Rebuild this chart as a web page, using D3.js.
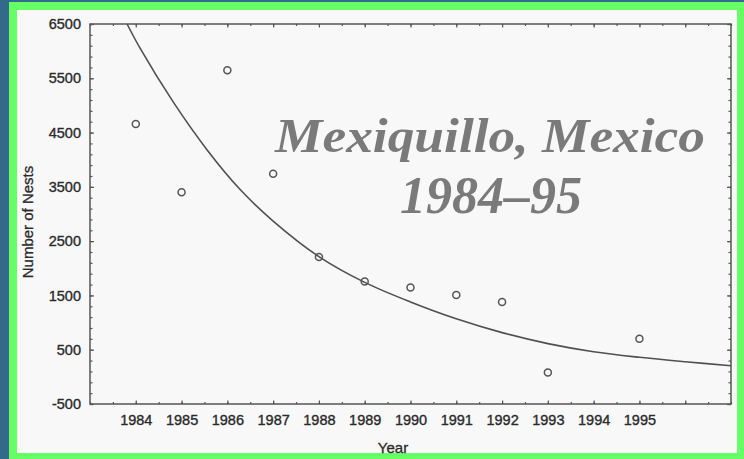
<!DOCTYPE html>
<html><head><meta charset="utf-8">
<script src="https://cdn.jsdelivr.net/npm/d3@7/dist/d3.min.js"></script>
<style>html,body{margin:0;padding:0;background:#336a8b;overflow:hidden}svg{display:block}</style>
</head><body><svg id="c" width="744" height="459"></svg>
<script>
// Observed nest counts
const years = [1984, 1985, 1986, 1987, 1988, 1989, 1990, 1991, 1992, 1993, 1995];
const nests = [4660, 3400, 5650, 3740, 2210, 1755, 1645, 1510, 1380, 80, 700];
// Fitted decay curve
const curveYears  = [1983.81, 1984.09, 1984.82, 1985.55, 1986.28, 1987.0, 1988.0, 1989.0, 1990.0, 1991.0, 1992.0, 1993.0, 1994.0, 1995.0, 1996.0, 1997.0];
const curveValues = [6500, 6060, 5060, 4190, 3450, 2870, 2215, 1740, 1380, 1070, 815, 612, 462, 360, 278, 205];
// Axis ticks
const xTickLabels = [1984, 1985, 1986, 1987, 1988, 1989, 1990, 1991, 1992, 1993, 1994, 1995];
const xTickMarks  = [1984, 1985, 1986, 1987, 1988, 1989, 1990, 1991, 1992, 1993, 1994, 1995, 1996];
const yTicks = [-500, 500, 1500, 2500, 3500, 4500, 5500, 6500];
const titleLines = ["Mexiquillo, Mexico", "1984\u201395"];

const svg = d3.select('#c');
svg.append('rect').attr('x', 9).attr('y', 2).attr('width', 735).attr('height', 457).attr('fill', '#66ff66');
svg.append('rect').attr('x', 17).attr('y', 10).attr('width', 720).attr('height', 443).attr('fill', '#f8f8f8');

const x = d3.scaleLinear().domain([1983, 1997]).range([90, 731]);
const y = d3.scaleLinear().domain([-500, 6500]).range([404, 24]);

const axisColor = '#555';
const font = '"Liberation Sans", Arial, sans-serif';
const textColor = '#2a2a2a';
const plain = d => String(d);

function styleAxis(g) {
  g.select('.domain').remove();
  g.selectAll('.tick line').attr('stroke', axisColor).attr('stroke-width', 1.2);
  g.selectAll('.tick text').attr('fill', textColor).attr('stroke', textColor).attr('stroke-width', 0.35)
    .style('font-family', font).style('font-size', '14.5px');
}

const minorY = d3.range(-500, 6501, 200);
const minorX = d3.range(1983, 1997.01, 0.5);

// minor ticks
svg.append('g').attr('transform', `translate(${x.range()[0]},0)`)
  .call(d3.axisLeft(y).tickValues(minorY).tickSize(-2.5).tickFormat('')).call(styleAxis);
svg.append('g').attr('transform', `translate(${x.range()[1]},0)`)
  .call(d3.axisRight(y).tickValues(minorY).tickSize(-2.5).tickFormat('')).call(styleAxis);
svg.append('g').attr('transform', `translate(0,${y.range()[1]})`)
  .call(d3.axisTop(x).tickValues(minorX).tickSize(-2).tickFormat('')).call(styleAxis);
svg.append('g').attr('transform', `translate(0,${y.range()[0]})`)
  .call(d3.axisBottom(x).tickValues(minorX).tickSize(-2).tickFormat('')).call(styleAxis);

// major ticks with labels
svg.append('g').attr('transform', `translate(${x.range()[0]},0)`)
  .call(d3.axisLeft(y).tickValues(yTicks).tickSize(-4).tickPadding(9).tickFormat(plain)).call(styleAxis);
svg.append('g').attr('transform', `translate(${x.range()[1]},0)`)
  .call(d3.axisRight(y).tickValues(yTicks).tickSize(-4).tickFormat('')).call(styleAxis);
svg.append('g').attr('transform', `translate(0,${y.range()[1]})`)
  .call(d3.axisTop(x).tickValues(xTickMarks).tickSize(-3.5).tickFormat('')).call(styleAxis);
svg.append('g').attr('transform', `translate(0,${y.range()[0]})`)
  .call(d3.axisBottom(x).tickValues(xTickMarks).tickSize(-3.5).tickFormat('')).call(styleAxis);
svg.append('g').attr('transform', `translate(0,${y.range()[0]})`)
  .call(d3.axisBottom(x).tickValues(xTickLabels).tickSize(0).tickPadding(11).tickFormat(plain)).call(styleAxis);

// frame
svg.append('rect')
  .attr('x', x.range()[0]).attr('y', y.range()[1])
  .attr('width', x.range()[1] - x.range()[0]).attr('height', y.range()[0] - y.range()[1])
  .attr('fill', 'none').attr('stroke', axisColor).attr('stroke-width', 1.5);

// curve
const curveData = curveYears.map((d, i) => [d, curveValues[i]]);
svg.append('path').datum(curveData)
  .attr('d', d3.line().x(d => x(d[0])).y(d => y(d[1])).curve(d3.curveCatmullRom.alpha(0.5)))
  .attr('fill', 'none').attr('stroke', '#505050').attr('stroke-width', 1.6);

// points
svg.append('g').selectAll('circle').data(years.map((d, i) => [d, nests[i]])).join('circle')
  .attr('cx', d => x(d[0])).attr('cy', d => y(d[1])).attr('r', 3.5)
  .attr('fill', 'none').attr('stroke', '#555').attr('stroke-width', 1.5);

// axis titles
svg.append('text').attr('transform', 'translate(27,222) rotate(-90)')
  .attr('text-anchor', 'middle').attr('dominant-baseline', 'central')
  .style('font-family', font).style('font-size', '15px')
  .attr('fill', textColor).attr('stroke', textColor).attr('stroke-width', 0.3)
  .text('Number of Nests');
svg.append('text').attr('x', 393).attr('y', 447)
  .attr('text-anchor', 'middle').attr('dominant-baseline', 'central')
  .style('font-family', font).style('font-size', '15px')
  .attr('fill', textColor).attr('stroke', textColor).attr('stroke-width', 0.3)
  .text('Year');

// overlay title
const titleFont = '"Liberation Serif", "Times New Roman", serif';
svg.append('text').attr('x', 490).attr('y', 152).attr('text-anchor', 'middle')
  .attr('textLength', 430).attr('lengthAdjust', 'spacingAndGlyphs')
  .style('font-family', titleFont).style('font-size', '48px').style('font-style', 'italic').style('font-weight', 'bold')
  .attr('fill', '#7a7a7a').text(titleLines[0]);
svg.append('text').attr('x', 491).attr('y', 213).attr('text-anchor', 'middle')
  .attr('textLength', 182).attr('lengthAdjust', 'spacingAndGlyphs')
  .style('font-family', titleFont).style('font-size', '52px').style('font-style', 'italic').style('font-weight', 'bold')
  .attr('fill', '#7a7a7a').text(titleLines[1]);
</script></body></html>
